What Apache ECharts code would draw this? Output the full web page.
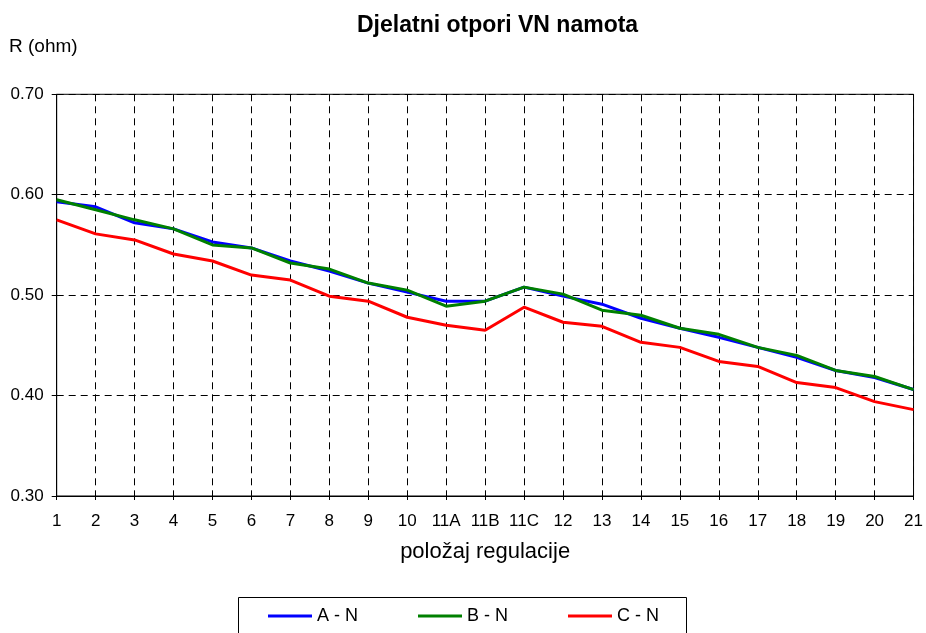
<!DOCTYPE html>
<html>
<head>
<meta charset="utf-8">
<script src="https://cdn.jsdelivr.net/npm/echarts@6/dist/echarts.min.js"></script>
<style>
html,body{margin:0;padding:0;background:#fff;}
#chart{width:926px;height:633px;}
</style>
</head>
<body>
<div id="chart"></div>
<script>
const categories = ['1','2','3','4','5','6','7','8','9','10','11A','11B','11C','12','13','14','15','16','17','18','19','20','21'];
const seriesNames = ['A - N','B - N','C - N'];
const valuesA = [0.593,0.588,0.572,0.566,0.553,0.547,0.534,0.524,0.512,0.503,0.494,0.494,0.508,0.499,0.491,0.477,0.467,0.458,0.448,0.438,0.425,0.418,0.406];
const valuesB = [0.595,0.585,0.575,0.566,0.550,0.547,0.532,0.526,0.512,0.505,0.489,0.494,0.508,0.501,0.485,0.480,0.467,0.461,0.448,0.440,0.425,0.419,0.406];
const valuesC = [0.575,0.561,0.555,0.541,0.534,0.520,0.515,0.499,0.494,0.478,0.470,0.465,0.488,0.473,0.469,0.453,0.448,0.434,0.429,0.413,0.408,0.394,0.386];
const colors = ['#0000FF','#008000','#FF0000'];
const titleText = 'Djelatni otpori VN namota';
const yName = 'R (ohm)';
const xName = 'položaj regulacije';

const FONT = 'Liberation Sans, Arial, sans-serif';
const chart = echarts.init(document.getElementById('chart'), null, {renderer:'canvas'});
const dataSets = [valuesA, valuesB, valuesC];
const legendLefts = [268, 418, 568];

const option = {
  animation: false,
  backgroundColor: '#fff',
  textStyle: {fontFamily: FONT},
  graphic: [
    {type:'text', left: 357, top: 14, style:{text: titleText, font: 'bold 23px ' + FONT, fill:'#000'}},
    {type:'text', left: 9, top: 37, style:{text: yName, font: '19px ' + FONT, fill:'#000'}},
    {type:'rect', shape:{x:238.5, y:597.5, width:448, height:60}, style:{fill:'none', stroke:'#000', lineWidth:1}, z:-1}
  ],
  legend: seriesNames.map((n, i) => ({
    data: [{name: n, icon: 'rect'}],
    left: legendLefts[i],
    top: 607,
    padding: 0,
    itemWidth: 44,
    itemHeight: 3,
    textStyle: {fontSize: 18, fontFamily: FONT, color: '#000'}
  })),
  grid: {left: 56.7, right: 6.7, top: 94.3, bottom: 137, show: true, borderColor:'#000', borderWidth: 1, backgroundColor:'transparent'},
  xAxis: {
    type: 'category',
    data: categories,
    boundaryGap: false,
    name: xName,
    nameLocation: 'middle',
    nameGap: 45,
    nameTextStyle: {fontSize: 22, color:'#000', fontFamily: FONT},
    axisLine: {lineStyle: {color:'#000', width:1}},
    axisTick: {show: true, length: 4, alignWithLabel: true, lineStyle:{color:'#000'}},
    axisLabel: {fontSize: 17, color:'#000', margin: 17, interval: 0, fontFamily: FONT},
    splitLine: {show: true, lineStyle: {color:'#000', type:[7,5], width:1}}
  },
  yAxis: {
    type: 'value',
    min: 0.3, max: 0.7, interval: 0.1,
    axisLine: {show: true, lineStyle: {color:'#000', width:1}},
    axisTick: {show: true, length: 5, lineStyle:{color:'#000'}},
    axisLabel: {fontSize: 17, color:'#000', margin: 13, fontFamily: FONT, formatter: v => v.toFixed(2)},
    splitLine: {show: true, lineStyle: {color:'#000', type:[7,5], width:1}}
  },
  series: seriesNames.map((n, i) => ({
    name: n,
    type: 'line',
    data: dataSets[i],
    symbol: 'none',
    showSymbol: false,
    lineStyle: {color: colors[i], width: 3},
    itemStyle: {color: colors[i]},
    z: 2 + i
  }))
};
chart.setOption(option);
</script>
</body>
</html>
